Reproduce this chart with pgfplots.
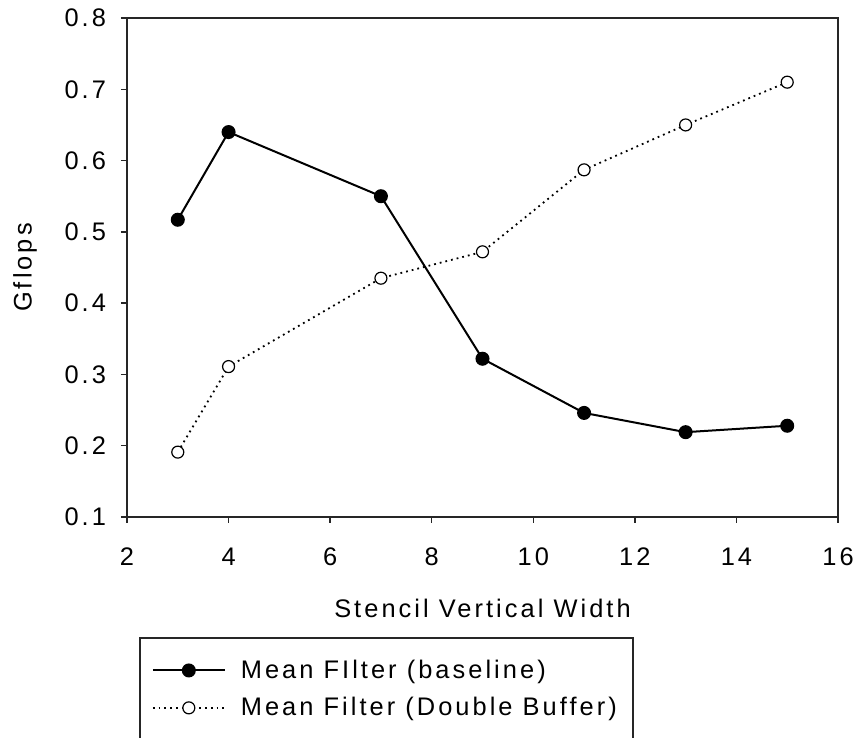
\documentclass[border=0pt]{standalone}
\usepackage{pgfplots}
\pgfplotsset{compat=1.18}
\usepackage{fontspec}
\setmainfont{Liberation Sans}[LetterSpace=12]

\begin{document}
\begin{tikzpicture}
\begin{axis}[
    name=ax,
    at={(0,0)}, anchor=south west,
    scale only axis,
    width=355.5pt, height=249.5pt,
    xmin=2, xmax=16, ymin=0.1, ymax=0.8,
    xtick={2,4,...,16},
    ytick={0.1,0.2,0.3,0.4,0.5,0.6,0.7,0.8},
    xtick pos=left, ytick pos=left,
    tick align=outside,
    major tick length=3pt,
    axis line style={line width=0.75pt, black!85},
    tick style={line width=0.75pt, black!85},
    /pgf/number format/assume math mode=true,
    yticklabel style={/pgf/number format/fixed, /pgf/number format/fixed zerofill, /pgf/number format/precision=1, xshift=-4pt},
    xticklabel style={yshift=-9pt},
    tick label style={font=\fontsize{12.7}{15}\selectfont},
    label style={font=\fontsize{12.7}{15}\selectfont},
    xlabel={Stencil Vertical Width},
    ylabel={Gflops},
    xlabel style={at={(axis description cs:0.5,-0.1824)}, anchor=center},
    ylabel style={at={(axis description cs:-0.1435,0.5)}, anchor=center},
    legend style={
        at={(axis description cs:0.017,-0.2405)}, anchor=north west,
        draw=black!85, line width=0.75pt,
        font=\fontsize{12.7}{15}\selectfont,
        inner xsep=6pt, inner ysep=9pt,
        row sep=4pt,
        /tikz/every odd column/.append style={column sep=5.5pt},
    },
    legend cell align=left,
    legend image code/.code={
        \draw[mark repeat=2, mark phase=2] plot coordinates {(0pt,0pt) (18pt,0pt) (36pt,0pt)};
    },
]
\addplot[black, line width=1pt, mark=*, mark size=3pt, mark options={solid, fill=black}]
    coordinates {(3,0.517) (4,0.640) (7,0.550) (9,0.322) (11,0.246) (13,0.219) (15,0.228)};
\addplot[black, line width=0.9pt, dotted, mark=*, mark size=3pt, mark options={solid, fill=white, draw=black, line width=0.6pt}]
    coordinates {(3,0.191) (4,0.311) (7,0.435) (9,0.472) (11,0.587) (13,0.650) (15,0.710)};
\legend{Mean FIlter (baseline), Mean Filter (Double Buffer)}
\addlegendimage{empty legend}
\addlegendentry{\rule{0pt}{12pt}}
\end{axis}
\pgfresetboundingbox
\path[use as bounding box] (-63.5pt,-110.5pt) rectangle (365.5pt,258.5pt);
\end{tikzpicture}
\end{document}
